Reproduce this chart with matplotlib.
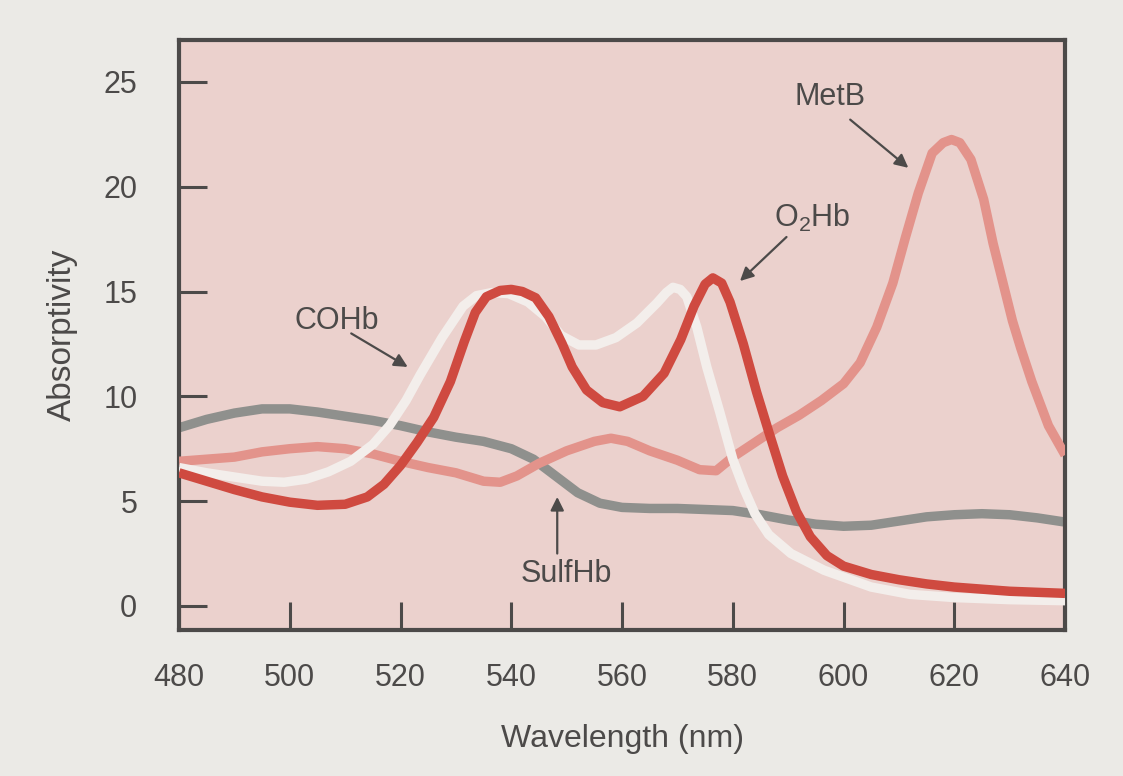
import matplotlib
matplotlib.use("Agg")
import matplotlib.pyplot as plt

plt.rcParams['font.family'] = ['Liberation Sans', 'DejaVu Sans']
plt.rcParams['mathtext.fontset'] = 'custom'
plt.rcParams['mathtext.rm'] = 'Liberation Sans'
plt.rcParams['mathtext.it'] = 'Liberation Sans'

# ---------------- data ----------------
o2hb_nm = [480, 485, 490, 495, 500, 505, 510, 514, 517, 520, 523, 526, 529, 531.5, 533.5, 535.5, 538,
           540, 542, 544.4, 546.8, 549.2, 551, 553.6, 556.5, 559.6, 563.8, 567.6, 570.6, 573, 575,
           576.4, 578, 579.5, 581.9, 584.3, 586.5, 589, 591.5, 594, 597, 600, 605, 610, 615, 620,
           625, 630, 635, 640]
o2hb_val = [6.35, 5.95, 5.55, 5.2, 4.95, 4.8, 4.85, 5.2, 5.8, 6.7, 7.8, 9.0, 10.7, 12.6, 14.0, 14.75, 15.05,
            15.1, 15.0, 14.7, 13.8, 12.5, 11.4, 10.3, 9.7, 9.5, 10.0, 11.1, 12.7, 14.3, 15.35,
            15.65, 15.4, 14.5, 12.5, 10.2, 8.3, 6.2, 4.5, 3.3, 2.4, 1.9, 1.5, 1.25, 1.05, 0.9,
            0.8, 0.7, 0.65, 0.6]

cohb_nm = [480, 485, 490, 495, 499, 503, 507, 511, 515, 518, 521, 523.5, 527.5, 531.3, 533.7, 536.5,
           539.5, 543, 546.2, 549, 552.2, 555.3, 558.9, 562.7, 566.3, 568, 569.2, 570.5, 571.7, 573.5,
           575.3, 577.7, 580, 582, 584, 586.5, 590.5, 596.5, 605, 612, 620, 630, 640]
cohb_val = [6.6, 6.35, 6.15, 5.95, 5.9, 6.05, 6.4, 6.9, 7.7, 8.6, 9.8, 11.0, 12.8, 14.3, 14.8, 14.95,
            14.9, 14.5, 13.8, 12.9, 12.45, 12.45, 12.8, 13.5, 14.45, 14.95, 15.2, 15.1, 14.75, 13.3,
            11.4, 9.2, 7.0, 5.6, 4.4, 3.4, 2.5, 1.7, 0.9, 0.55, 0.4, 0.3, 0.25]

metb_nm = [480, 485, 490, 495, 500, 505, 510, 515, 520, 525, 530, 535, 538, 541, 545, 550, 555,
           558, 561, 565, 570, 574, 577, 580, 584, 588, 592, 596, 600, 603, 606, 608.9, 611.2, 613.5,
           616, 618, 619.5, 621, 623, 625.3, 627, 628.8, 630.5, 632, 634, 637, 640]
metb_val = [6.9, 7.0, 7.1, 7.35, 7.5, 7.6, 7.5, 7.25, 6.9, 6.6, 6.35, 5.95, 5.9, 6.2, 6.8, 7.4, 7.85,
            8.0, 7.85, 7.4, 6.95, 6.5, 6.45, 7.1, 7.8, 8.5, 9.1, 9.8, 10.6, 11.6, 13.3, 15.4, 17.6, 19.7,
            21.6, 22.1, 22.25, 22.1, 21.3, 19.4, 17.3, 15.4, 13.6, 12.3, 10.7, 8.6, 7.2]

sulf_nm = [480, 485, 490, 495, 500, 505, 510, 515, 520, 525, 530, 535, 540, 544, 548, 552, 556,
           560, 565, 570, 575, 580, 585, 590, 595, 600, 605, 610, 615, 620, 625, 630, 635, 640]
sulf_val = [8.5, 8.9, 9.2, 9.4, 9.4, 9.25, 9.05, 8.85, 8.6, 8.3, 8.05, 7.85, 7.5, 7.0, 6.2, 5.4, 4.9,
            4.7, 4.65, 4.65, 4.6, 4.55, 4.35, 4.1, 3.9, 3.8, 3.85, 4.05, 4.25, 4.35, 4.4, 4.35, 4.2, 4.0]

x_ticks = [480, 500, 520, 540, 560, 580, 600, 620, 640]
y_ticks = [0, 5, 10, 15, 20, 25]

# ---------------- style ----------------
FIG_BG = '#ebeae6'
AX_BG = '#ebd1cd'
TXT = '#4c4a49'
C_O2 = '#cf4a40'
C_MET = '#e3938b'
C_CO = '#f3eeeb'
C_SULF = '#8f908d'
LW = 6.8

fig = plt.figure(figsize=(11.23, 7.76), dpi=100, facecolor=FIG_BG)
ax = fig.add_axes([0.1594, 0.1881, 0.789, 0.7604])
ax.set_facecolor(AX_BG)

line_kw = dict(lw=LW, solid_capstyle='butt', solid_joinstyle='round')
ax.plot(sulf_nm, sulf_val, color=C_SULF, zorder=2, **line_kw)
ax.plot(metb_nm, metb_val, color=C_MET, zorder=3, **line_kw)
ax.plot(cohb_nm, cohb_val, color=C_CO, zorder=4, **line_kw)
ax.plot(o2hb_nm, o2hb_val, color=C_O2, zorder=5, **line_kw)

ax.set_xlim(480, 640)
ax.set_ylim(-1.15, 27.0)
ax.set_xticks(x_ticks)
ax.set_yticks(y_ticks)
ax.tick_params(axis='both', direction='in', length=20, width=2.2, color=TXT,
               labelsize=22, labelcolor=TXT)
ax.tick_params(axis='x', pad=24)
ax.tick_params(axis='y', pad=30)
for s in ax.spines.values():
    s.set_linewidth(3)
    s.set_color(TXT)

ax.set_xlabel('Wavelength (nm)', fontsize=23, color=TXT, labelpad=22)
ax.set_ylabel('Absorptivity', fontsize=24, color=TXT, labelpad=18)

arrow = dict(arrowstyle='-|>', color=TXT, lw=1.6, mutation_scale=20, shrinkA=0, shrinkB=0)
ax.annotate('', xy=(611.7, 20.9), xytext=(601.2, 23.2), arrowprops=arrow, zorder=6)
ax.text(597.5, 24.3, 'MetB', fontsize=22, color=TXT, ha='center', va='center', zorder=6)

ax.annotate('', xy=(581.3, 15.5), xytext=(589.7, 17.6), arrowprops=arrow, zorder=6)
ax.text(594.3, 18.5, r'O$_{\mathrm{2}}$Hb', fontsize=22, color=TXT, ha='center', va='center', zorder=6)

ax.annotate('', xy=(521.3, 11.4), xytext=(511.1, 13.0), arrowprops=arrow, zorder=6)
ax.text(508.5, 13.6, 'COHb', fontsize=22, color=TXT, ha='center', va='center', zorder=6)

ax.annotate('', xy=(548.3, 5.2), xytext=(548.3, 2.5), arrowprops=arrow, zorder=6)
ax.text(549.9, 1.5, 'SulfHb', fontsize=22, color=TXT, ha='center', va='center', zorder=6)

fig.savefig('out.png', dpi=100, facecolor=FIG_BG)
